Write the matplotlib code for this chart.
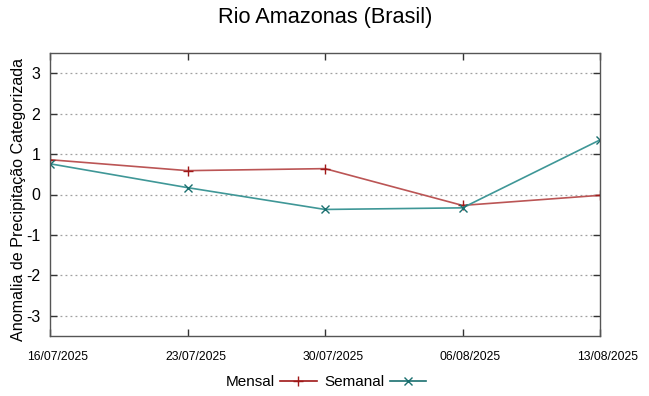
import matplotlib
matplotlib.use("Agg")
import matplotlib.pyplot as plt
from matplotlib import font_manager
from matplotlib.transforms import ScaledTranslation

dates = ["16/07/2025", "23/07/2025", "30/07/2025", "06/08/2025", "13/08/2025"]
mensal = [0.86, 0.59, 0.64, -0.27, -0.02]
semanal = [0.76, 0.17, -0.37, -0.33, 1.35]
yticks = [-3, -2, -1, 0, 1, 2, 3]

plt.rcParams['font.family'] = ['Liberation Sans', 'DejaVu Sans']
names = {f.name for f in font_manager.fontManager.ttflist}
narrow = 'Liberation Sans Narrow' if 'Liberation Sans Narrow' in names else 'Liberation Sans'

fig = plt.figure(figsize=(6.49, 3.96), dpi=100)
ax = fig.add_axes([50/649, 60/396, 550/649, 283/396])
x = list(range(len(dates)))
ax.plot(x, mensal, color='#bb5555', lw=1.2, marker='+', ms=7, mew=1.0, mec='#a01818', label='Mensal')
ax.plot(x, semanal, color='#3f9797', lw=1.2, marker='x', ms=6, mew=1.0, mec='#1a6f6f', label='Semanal')
ax.set_xlim(0, 4)
ax.set_ylim(-3.5, 3.5)
ax.set_yticks(yticks)
ax.set_yticklabels([str(v) for v in yticks], fontsize=11.5)
ax.set_xticks(x)
ax.set_xticklabels([])
off = ScaledTranslation(8/100, -21/100, fig.dpi_scale_trans)
for xi, d in zip(x, dates):
    ax.text(xi, 0, d, transform=ax.get_xaxis_transform() + off, ha='center', va='center',
            fontsize=8.7, family=narrow, clip_on=False)
ax.yaxis.grid(True, ls=(0, (1.5, 2.5)), color='#a0a0a0', lw=0.9)
ax.tick_params(axis='both', direction='in', top=True, right=True, length=5, color='#333333', width=1)
ax.tick_params(axis='y', pad=7)
for s in ax.spines.values():
    s.set_color('#555555')
    s.set_linewidth(1.0)
ax.set_ylabel('Anomalia de Precipitação Categorizada', fontsize=11.6)
ax.yaxis.set_label_coords(-24/550, 0.482)
fig.text(325/649, 1 - 18/396, 'Rio Amazonas (Brasil)', ha='center', va='center', fontsize=15.7)
leg = fig.legend(loc='center', bbox_to_anchor=(326/649, 1 - 382/396), ncol=2, frameon=False,
                 markerfirst=False, fontsize=11, handlelength=2.4, columnspacing=0.5, handletextpad=0.35)
leg.get_lines()[0].set_color('#a01818')
leg.get_lines()[1].set_color('#1a6f6f')
fig.savefig('out.png', dpi=100)
